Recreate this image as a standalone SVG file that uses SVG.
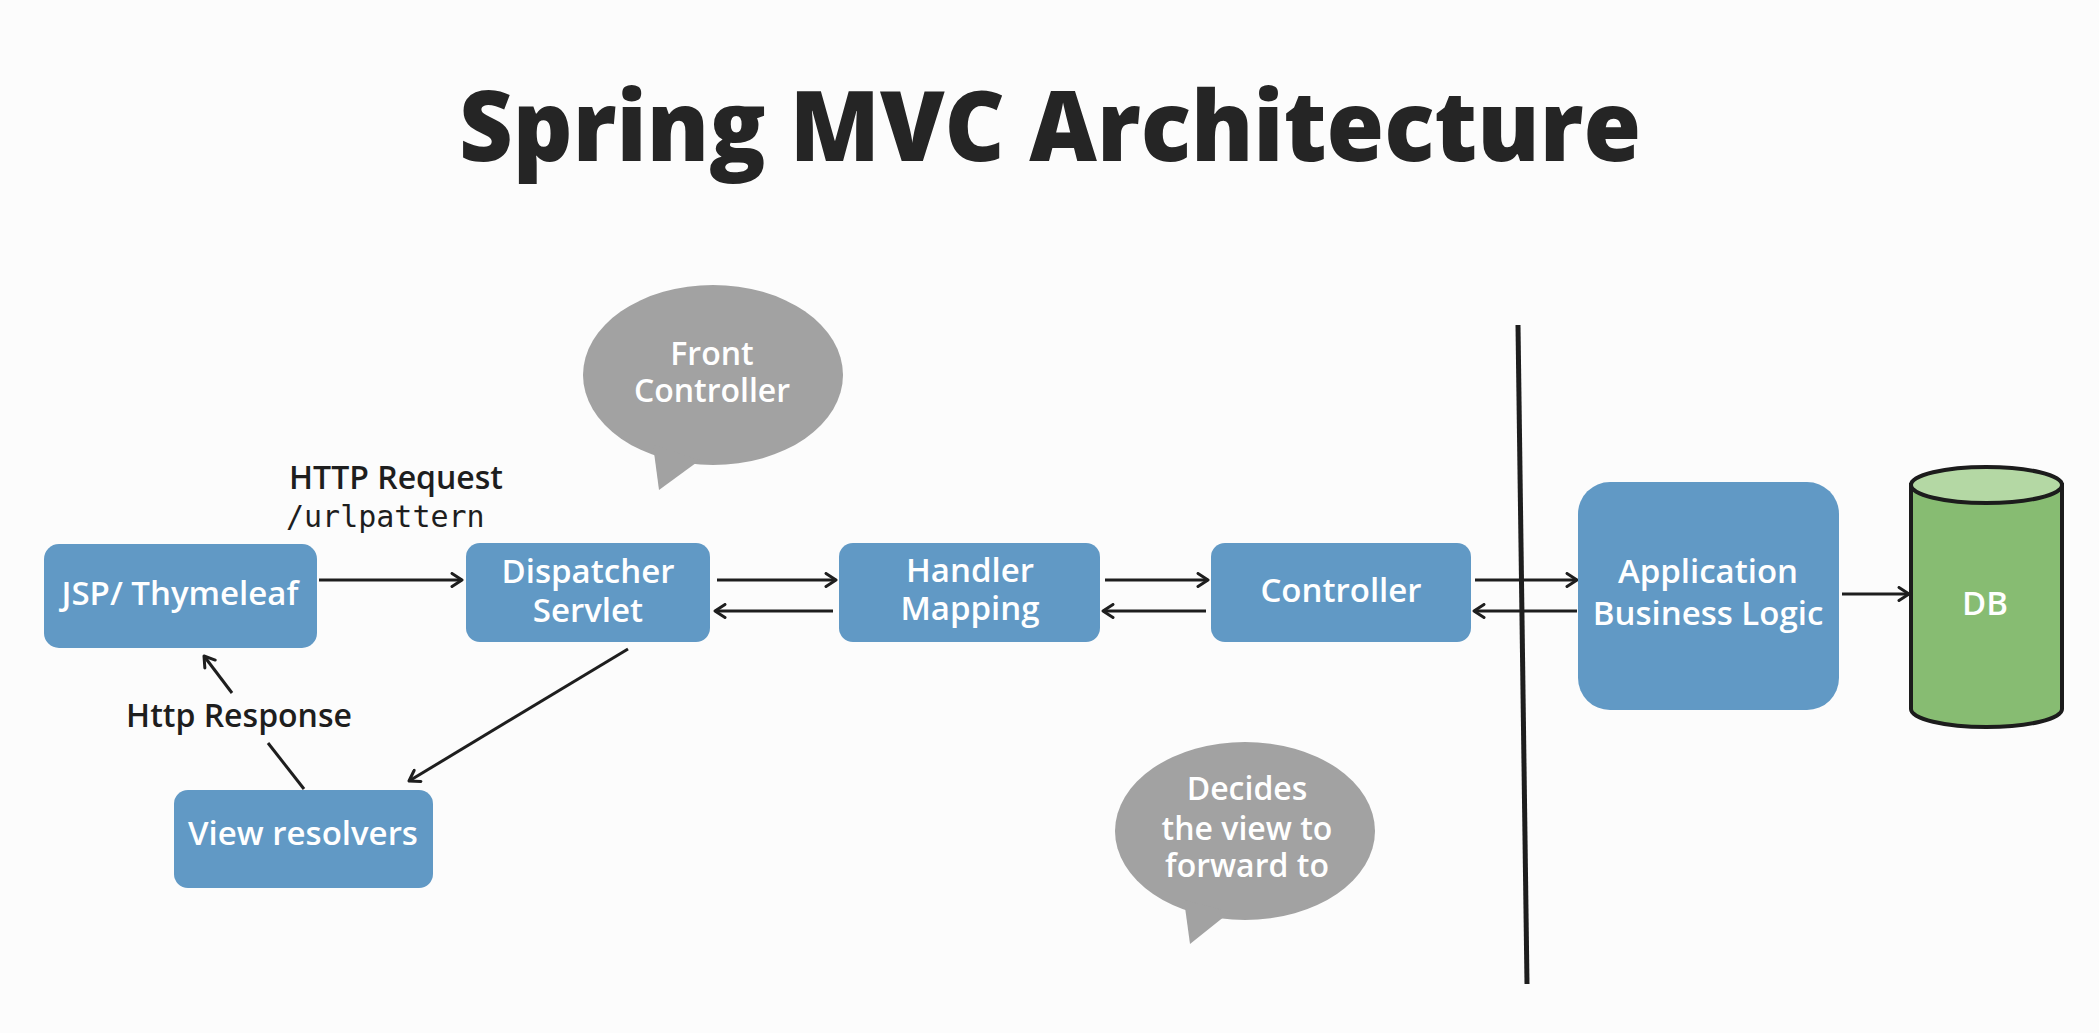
<svg xmlns="http://www.w3.org/2000/svg" width="2099" height="1033" viewBox="0 0 2099 1033">
<defs>
<style>
.box{fill:#6199c5;}
.lbl{font-family:"Open Sans","Liberation Sans",sans-serif;font-weight:600;font-size:33px;fill:#ffffff;text-anchor:middle;}
.blab{font-family:"Open Sans","Liberation Sans",sans-serif;font-weight:600;font-size:32px;fill:#ffffff;text-anchor:middle;}
.dark{font-family:"Open Sans","Liberation Sans",sans-serif;font-weight:600;font-size:32px;fill:#1e1e1e;text-anchor:middle;}
.mono{font-family:"DejaVu Sans Mono","Liberation Mono",monospace;font-size:30px;fill:#1e1e1e;}
.bub{fill:#a2a2a2;}
.ar{stroke:#1e1e1e;stroke-width:3;fill:none;}
</style>
<marker id="ah" viewBox="0 0 14 16" refX="12" refY="8" markerWidth="14" markerHeight="16" markerUnits="userSpaceOnUse" orient="auto">
<path d="M2,1.5 L12,8 L2,14.5" fill="none" stroke="#1e1e1e" stroke-width="3" stroke-linecap="round" stroke-linejoin="round"/>
</marker>
</defs>
<rect x="0" y="0" width="2099" height="1033" fill="#fcfcfc"/>
<text x="1050" y="161" font-family="'Open Sans','Liberation Sans',sans-serif" font-weight="800" font-size="97" fill="#252525" text-anchor="middle" textLength="1182" lengthAdjust="spacingAndGlyphs">Spring MVC Architecture</text>

<g id="divider"><line x1="1518" y1="325" x2="1527" y2="984" stroke="#1e1e1e" stroke-width="5"/></g>

<g id="connectors">
<line class="ar" x1="319" y1="580" x2="462" y2="580" marker-end="url(#ah)"/>
<line class="ar" x1="717" y1="580" x2="836" y2="580" marker-end="url(#ah)"/>
<line class="ar" x1="833" y1="611" x2="715" y2="611" marker-end="url(#ah)"/>
<line class="ar" x1="1105" y1="580" x2="1208" y2="580" marker-end="url(#ah)"/>
<line class="ar" x1="1206" y1="611" x2="1103" y2="611" marker-end="url(#ah)"/>
<line class="ar" x1="1475" y1="580" x2="1577" y2="580" marker-end="url(#ah)"/>
<line class="ar" x1="1577" y1="611" x2="1474" y2="611" marker-end="url(#ah)"/>
<line class="ar" x1="1842" y1="594" x2="1909" y2="594" marker-end="url(#ah)"/>
<line class="ar" x1="628" y1="649" x2="409" y2="781" marker-end="url(#ah)"/>
<line class="ar" x1="232" y1="693" x2="204" y2="656" marker-end="url(#ah)"/>
<line class="ar" x1="268" y1="743" x2="304" y2="789"/>
</g>

<g id="label-http-request">
<text class="dark" x="396" y="489">HTTP Request</text>
<text class="mono" x="286" y="527">/urlpattern</text>
</g>
<g id="label-http-response"><text class="dark" x="239" y="727">Http Response</text></g>

<g id="node-jsp">
<rect class="box" x="44" y="544" width="273" height="104" rx="15"/>
<text class="lbl" x="180" y="605">JSP/ Thymeleaf</text>
</g>
<g id="node-dispatcher">
<rect class="box" x="466" y="543" width="244" height="99" rx="14"/>
<text class="lbl" x="588" y="583">Dispatcher</text>
<text class="lbl" x="588" y="622">Servlet</text>
</g>
<g id="node-handler">
<rect class="box" x="839" y="543" width="261" height="99" rx="14"/>
<text class="lbl" x="970" y="582">Handler</text>
<text class="lbl" x="970" y="620">Mapping</text>
</g>
<g id="node-controller">
<rect class="box" x="1211" y="543" width="260" height="99" rx="14"/>
<text class="lbl" x="1341" y="602">Controller</text>
</g>
<g id="node-app">
<rect class="box" x="1578" y="482" width="261" height="228" rx="32"/>
<text class="lbl" x="1708" y="583">Application</text>
<text class="lbl" x="1708" y="625">Business Logic</text>
</g>
<g id="node-db">
<path d="M1911,485 L1911,709 A75.5,18 0 0 0 2062,709 L2062,485 Z" fill="#87bc72" stroke="#1c1c1c" stroke-width="4"/>
<ellipse cx="1986.5" cy="485" rx="75.5" ry="18" fill="#b4d8a4" stroke="#1c1c1c" stroke-width="4"/>
<text class="lbl" x="1985" y="615" font-size="35">DB</text>
</g>
<g id="node-view">
<rect class="box" x="174" y="790" width="259" height="98" rx="14"/>
<text class="lbl" x="303" y="845">View resolvers</text>
</g>
<g id="bubble-front">
<ellipse class="bub" cx="713" cy="375" rx="130" ry="90"/>
<polygon class="bub" points="653,445 659,490 700,460"/>
<text class="blab" x="712" y="365">Front</text>
<text class="blab" x="712" y="402">Controller</text>
</g>
<g id="bubble-decides">
<ellipse class="bub" cx="1245" cy="831" rx="130" ry="89"/>
<polygon class="bub" points="1184,900 1190,944 1230,912"/>
<text class="blab" x="1247" y="800">Decides</text>
<text class="blab" x="1247" y="840">the view to</text>
<text class="blab" x="1247" y="877">forward to</text>
</g>
</svg>
